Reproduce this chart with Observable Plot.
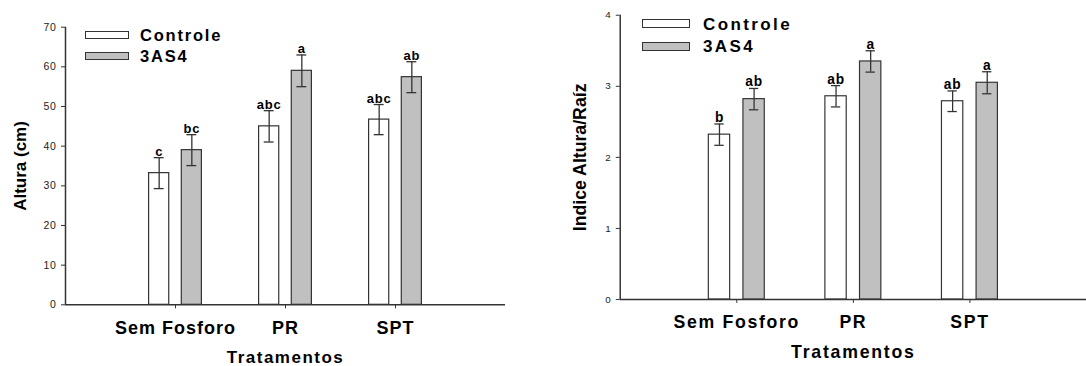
<!DOCTYPE html>
<html>
<head>
<meta charset="utf-8">
<script src="https://cdn.jsdelivr.net/npm/d3@7"></script>
<script src="https://cdn.jsdelivr.net/npm/@observablehq/plot@0.6"></script>
<style>
  html, body { margin: 0; padding: 0; width: 1086px; height: 366px; overflow: hidden; background: #fff; }
  #wrap { position: relative; width: 1086px; height: 366px; overflow: hidden; font-family: "Liberation Sans", Arial, sans-serif; }
  .panel { position: absolute; top: 0; }
  .leg { position: absolute; font-weight: bold; color: #000; line-height: 1; white-space: nowrap; }
  .sw { position: absolute; box-sizing: border-box; border: 1px solid #333; }
</style>
</head>
<body>
<div id="wrap"></div>
<script>
// ---- data ----
const treatments = ["Sem Fosforo", "PR", "SPT"];
const seriesNames = ["Controle", "3AS4"];
const seriesFill = ["#ffffff", "#c0c0c0"];

const alturaControle = [33.2, 45.0, 46.7];
const alturaControleErr = [3.9, 3.95, 3.8];
const alturaControleLetters = ["c", "abc", "abc"];
const altura3AS4 = [39.0, 59.0, 57.4];
const altura3AS4Err = [3.9, 4.0, 3.9];
const altura3AS4Letters = ["bc", "a", "ab"];

const indiceControle = [2.32, 2.86, 2.79];
const indiceControleErr = [0.15, 0.15, 0.145];
const indiceControleLetters = ["b", "ab", "ab"];
const indice3AS4 = [2.82, 3.35, 3.05];
const indice3AS4Err = [0.15, 0.15, 0.155];
const indice3AS4Letters = ["ab", "a", "a"];

const alturaTicks = [0, 10, 20, 30, 40, 50, 60, 70];
const indiceTicks = [0, 1, 2, 3, 4];

function rows(vals, errs, letters) {
  const out = [];
  for (let s = 0; s < 2; s++) {
    treatments.forEach((t, i) => {
      out.push({treatment: t, pos: i + 1, series: s, value: vals[s][i], err: errs[s][i], letter: letters[s][i]});
    });
  }
  return out;
}

const INNER = 0.057, OUTER = 0.24, MID = (INNER + OUTER) / 2;
const sgn = d => d.series === 0 ? -1 : 1;

function makeChart(cfg) {
  const data = rows(cfg.vals, cfg.errs, cfg.letters);
  const fontFamily = "'Liberation Sans', Arial, sans-serif";
  const svg = Plot.plot({
    width: cfg.width,
    height: 366,
    marginLeft: cfg.ml,
    marginRight: cfg.mr,
    marginTop: cfg.mt,
    marginBottom: cfg.mb,
    style: {fontFamily, color: "#000", background: "transparent", overflow: "visible"},
    x: {type: "linear", domain: [0, 4]},
    y: {domain: cfg.ydomain},
    marks: [
      Plot.rect(data, {
        x1: d => d.pos + sgn(d) * (d.series === 0 ? OUTER : INNER),
        x2: d => d.pos + sgn(d) * (d.series === 0 ? INNER : OUTER),
        y1: 0, y2: "value",
        fill: d => seriesFill[d.series], stroke: "#333", strokeWidth: 1.2, inset: 0
      }),
      Plot.ruleX(data, {x: d => d.pos + sgn(d) * MID, y1: d => d.value - d.err, y2: d => d.value + d.err, stroke: "#333", strokeWidth: 1.3}),
      Plot.ruleY(data, {y: d => d.value + d.err, x1: d => d.pos + sgn(d) * MID - cfg.cap, x2: d => d.pos + sgn(d) * MID + cfg.cap, stroke: "#333", strokeWidth: 1.3}),
      Plot.ruleY(data, {y: d => d.value - d.err, x1: d => d.pos + sgn(d) * MID - cfg.cap, x2: d => d.pos + sgn(d) * MID + cfg.cap, stroke: "#333", strokeWidth: 1.3}),
      Plot.text(data, {x: d => d.pos + sgn(d) * MID, y: d => d.value + d.err, text: "letter", lineAnchor: "bottom", dy: -2, fontSize: cfg.letterSize, fontWeight: "bold", fill: "#000", className: "letters"}),
      Plot.ruleY([0], {stroke: "#333", strokeWidth: 1.5}),
      Plot.ruleX([0], {y1: cfg.ydomain[0], y2: cfg.ydomain[1], stroke: "#333", strokeWidth: 1.5}),
      Plot.axisY({ticks: cfg.yticks, tickFormat: d => String(d), tickSize: 4, tickPadding: 5, fontSize: cfg.ytickSize, label: null, stroke: "#333", fill: "#222"}),
      Plot.axisX({ticks: [1, 2, 3], tickFormat: v => treatments[v - 1], tickSize: 4, tickPadding: 12, fontSize: cfg.xtickSize, fontWeight: "bold", label: null, stroke: "#333"}),
      Plot.text(["Tratamentos"], {frameAnchor: "bottom", text: d => d, textAnchor: "middle", dy: cfg.xtitleDy, lineAnchor: "middle", fontSize: cfg.xtitleSize, fontWeight: "bold"}),
      Plot.text([cfg.ytitle], {frameAnchor: "left", text: d => d, textAnchor: "middle", rotate: -90, dx: cfg.ytitleDx, lineAnchor: "middle", fontSize: cfg.ytitleSize, fontWeight: "bold"})
    ]
  });
  // letter spacing to match the reference's wide glyphs
  const spacing = new Map([["Tratamentos", cfg.tls], [cfg.ytitle, cfg.yls]]);
  treatments.forEach(t => spacing.set(t, cfg.xls));
  d3.select(svg).selectAll("text").each(function () {
    const t = this.textContent;
    if (spacing.has(t)) d3.select(this).style("letter-spacing", spacing.get(t));
    else if (/^[abc]+$/.test(t)) d3.select(this).style("letter-spacing", "0.8px");
    else if (/^\d+$/.test(t)) d3.select(this).style("letter-spacing", "0.6px");
  });

  const div = document.createElement("div");
  div.className = "panel";
  div.style.left = cfg.left + "px";
  div.appendChild(svg);
  document.getElementById("wrap").appendChild(div);

  // legend
  seriesNames.forEach((name, s) => {
    const sw = document.createElement("div");
    sw.className = "sw";
    sw.style.left = cfg.leg.boxX + "px";
    sw.style.top = cfg.leg.boxY[s] + "px";
    sw.style.width = cfg.leg.boxW + "px";
    sw.style.height = cfg.leg.boxH + "px";
    sw.style.background = seriesFill[s];
    document.getElementById("wrap").appendChild(sw);
    const tx = document.createElement("div");
    tx.className = "leg";
    tx.textContent = name;
    tx.style.left = cfg.leg.textX + "px";
    tx.style.top = cfg.leg.textY[s] + "px";
    tx.style.fontSize = cfg.leg.size + "px";
    tx.style.letterSpacing = cfg.leg.ls;
    document.getElementById("wrap").appendChild(tx);
  });
}

makeChart({
  left: 0, width: 540, ml: 65, mr: 35, mt: 26.7, mb: 61.7,
  ydomain: [0, 70], yticks: alturaTicks,
  vals: [alturaControle, altura3AS4], errs: [alturaControleErr, altura3AS4Err],
  letters: [alturaControleLetters, altura3AS4Letters],
  cap: 0.045, letterSize: 13, ytickSize: 10.5, xtickSize: 18, xls: "1px",
  xtitleSize: 17, xtitleDy: 53, tls: "1.5px",
  ytitle: "Altura (cm)", ytitleSize: 17, ytitleDx: -45, yls: "0px",
  leg: {boxX: 85, boxY: [30.7, 51.7], boxW: 44, boxH: 8, textX: 140, textY: [26.8, 48.1], size: 16.5, ls: "1.8px"}
});

makeChart({
  left: 543, width: 552, ml: 78, mr: 0, mt: 15, mb: 62,
  ydomain: [0, 4], yticks: indiceTicks,
  vals: [indiceControle, indice3AS4], errs: [indiceControleErr, indice3AS4Err],
  letters: [indiceControleLetters, indice3AS4Letters],
  cap: 0.04, letterSize: 14, ytickSize: 10, xtickSize: 18, xls: "1.7px",
  xtitleSize: 18, xtitleDy: 54, tls: "1.8px",
  ytitle: "Indice Altura/Raíz", ytitleSize: 18, ytitleDx: -41, yls: "0px",
  leg: {boxX: 641.7, boxY: [19.3, 41.7], boxW: 48.3, boxH: 9, textX: 703, textY: [15.9, 37.5], size: 17, ls: "2.4px"}
});
</script>
</body>
</html>
